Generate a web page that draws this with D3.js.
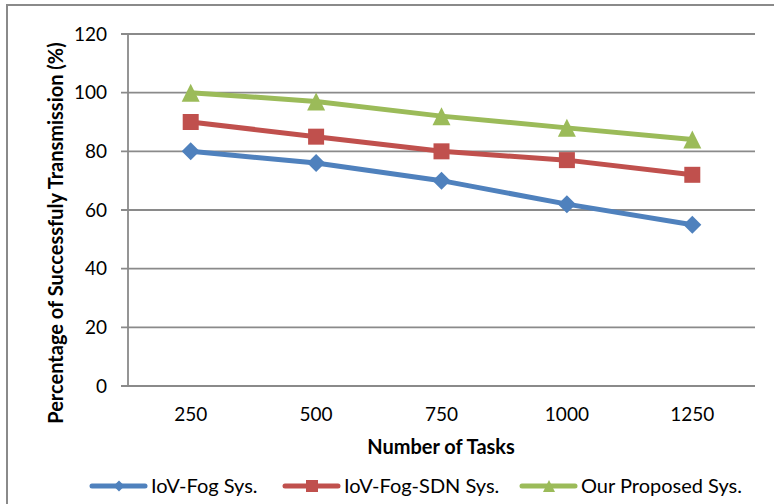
<!DOCTYPE html>
<html lang="en">
<head>
<meta charset="UTF-8">
<title>Successful Transmission</title>
<script src="https://cdnjs.cloudflare.com/ajax/libs/d3/7.8.5/d3.min.js"></script>
<style>
  body { margin: 0; background: #fff; }
  svg { font-family: Lato, "Open Sans", Arial, sans-serif; }
  .grid line { stroke: #8a8a8a; stroke-width: 1.8px; }
  .axis text { font-size: 19px; fill: #000; }
</style>
</head>
<body>
<div id="chart"></div>
<script>
// data
const tasks = ["250", "500", "750", "1000", "1250"];
const iovFog = [80, 76, 70, 62, 55];
const iovFogSdn = [90, 85, 80, 77, 72];
const proposed = [100, 97, 92, 88, 84];
const yTicks = [0, 20, 40, 60, 80, 100, 120];

// marker shapes, centred on the point (r = half width)
const diamond = r => `M0,${-r}L${r},0L0,${r}L${-r},0Z`;
const square = r => `M${-r},${-r}H${r}V${r}H${-r}Z`;
const triangle = r => `M0,${-r}L${r},${r}H${-r}Z`;

const series = [
  { name: "IoV-Fog Sys.", values: iovFog, color: "#4F81BD", marker: diamond, r: 9, lr: 5.5 },
  { name: "IoV-Fog-SDN Sys.", values: iovFogSdn, color: "#C0504D", marker: square, r: 8, lr: 6 },
  { name: "Our Proposed Sys.", values: proposed, color: "#9BBB59", marker: triangle, r: 9, lr: 6 }
];

const width = 774, height = 504;
const margin = { left: 128, right: 19, top: 34, bottom: 118 };

const svg = d3.select("#chart").append("svg")
  .attr("width", width)
  .attr("height", height);

// outer frame (only left and top visible in the picture)
svg.append("path")
  .attr("d", "M7,504 V5 H774")
  .attr("fill", "none")
  .attr("stroke", "#8a8a8a")
  .attr("stroke-width", 2);

const x = d3.scaleBand()
  .domain(tasks)
  .range([margin.left, width - margin.right]);

const y = d3.scaleLinear()
  .domain([0, 120])
  .range([height - margin.bottom, margin.top]);

const cx = d => x(d) + x.bandwidth() / 2;

// horizontal gridlines with small ticks to the left
svg.append("g")
  .attr("class", "grid")
  .selectAll("line")
  .data(yTicks)
  .join("line")
  .attr("x1", margin.left - 7)
  .attr("x2", width - margin.right)
  .attr("y1", d => y(d))
  .attr("y2", d => y(d));

// vertical axis line
svg.append("line")
  .attr("x1", margin.left).attr("x2", margin.left)
  .attr("y1", y(120)).attr("y2", y(0))
  .attr("stroke", "#8a8a8a")
  .attr("stroke-width", 1.8);

// y tick labels
svg.append("g")
  .attr("class", "axis")
  .selectAll("text")
  .data(yTicks)
  .join("text")
  .attr("x", 107)
  .attr("y", d => y(d))
  .attr("dy", "0.35em")
  .attr("text-anchor", "end")
  .text(d => d);

// x tick labels
svg.append("g")
  .attr("class", "axis")
  .selectAll("text")
  .data(tasks)
  .join("text")
  .attr("x", d => cx(d))
  .attr("y", 421)
  .attr("text-anchor", "middle")
  .text(d => d);

// axis titles
svg.append("text")
  .attr("x", 441)
  .attr("y", 454)
  .attr("text-anchor", "middle")
  .style("font-size", "20px")
  .style("font-weight", "bold")
  .text("Number of Tasks");

svg.append("text")
  .attr("transform", "translate(56,233) rotate(-90)")
  .attr("dy", "0.35em")
  .attr("text-anchor", "middle")
  .style("font-size", "20px")
  .style("font-weight", "bold")
  .text("Percentage of Successfuly Transmission (%)");

const line = d3.line()
  .x((d, i) => cx(tasks[i]))
  .y(d => y(d));

const lines = svg.append("g")
  .selectAll("g")
  .data(series)
  .join("g");

lines.append("path")
  .attr("d", d => line(d.values))
  .attr("fill", "none")
  .attr("stroke", d => d.color)
  .attr("stroke-width", 5)
  .attr("stroke-linejoin", "round");

lines.each(function(s) {
  d3.select(this).selectAll(".pt")
    .data(s.values)
    .join("path")
    .attr("class", "pt")
    .attr("d", s.marker(s.r))
    .attr("fill", s.color)
    .attr("transform", (d, i) => `translate(${cx(tasks[i])},${y(d)})`);
});

// legend
const legendX = [92, 285, 522];
const legend = svg.append("g")
  .selectAll("g")
  .data(series)
  .join("g")
  .attr("transform", (d, i) => `translate(${legendX[i]},486)`);

legend.append("line")
  .attr("x1", 0).attr("x2", 53)
  .attr("stroke", d => d.color)
  .attr("stroke-width", 5)
  .attr("stroke-linecap", "round");

legend.append("path")
  .attr("d", d => d.marker(d.lr))
  .attr("transform", "translate(27,0)")
  .attr("fill", d => d.color);

legend.append("text")
  .attr("x", 59)
  .attr("dy", "0.35em")
  .style("font-size", "20px")
  .text(d => d.name);
</script>
</body>
</html>
